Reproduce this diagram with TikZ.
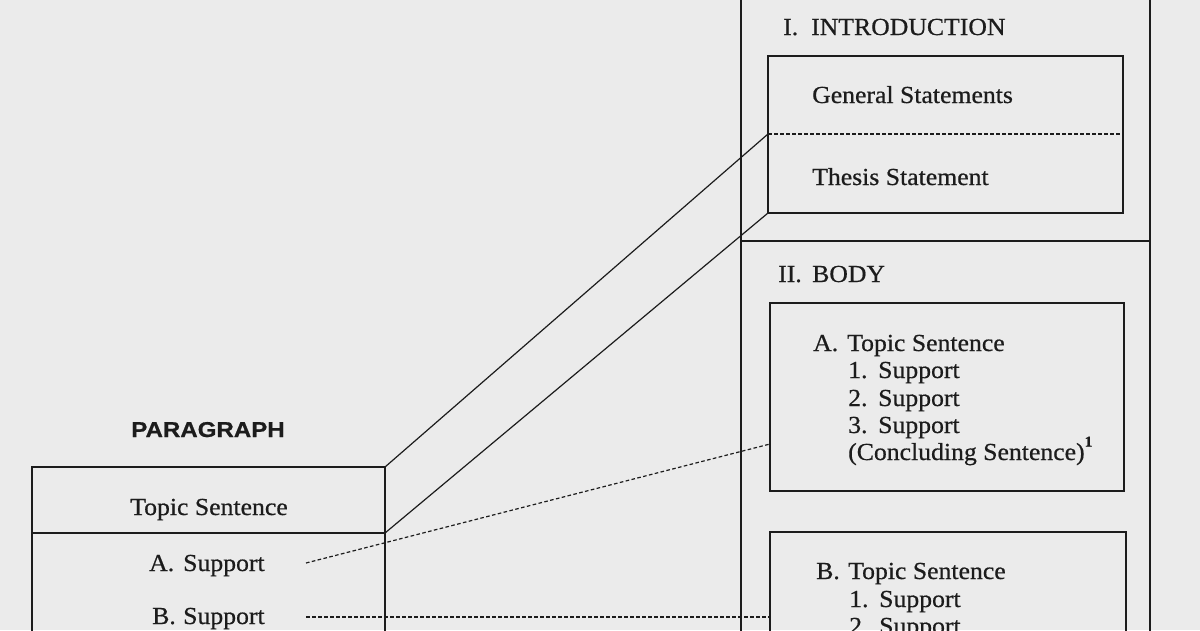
\documentclass[tikz,border=0pt]{standalone}
\usepackage{fontspec}
\setmainfont{Liberation Serif}[FakeStretch=1.05,FakeBold=0.6]
\newfontfamily\headfont{Liberation Sans}[FakeStretch=1.12,FakeBold=0.8]
\definecolor{bg}{RGB}{235,235,235}
\definecolor{ink}{RGB}{28,28,28}
\begin{document}
\begin{tikzpicture}[x=1pt,y=-1pt,
  txt/.style={font=\fontsize{24.5}{29}\selectfont, text=ink, inner sep=0pt, anchor=base west},
  ctxt/.style={txt, anchor=base},
  head/.style={font=\headfont\bfseries\fontsize{21.5}{25}\selectfont, text=ink, inner sep=0pt, anchor=base},
  area/.style={inner sep=0pt, outer sep=0pt, anchor=north west},
  frame/.style={draw=ink, line width=1.4pt},
  sline/.style={draw=ink, line width=1.2pt},
  dline/.style={draw=ink, line width=1.2pt, dash pattern=on 3.6pt off 2.4pt}]
\useasboundingbox (0,0) rectangle (1200,630);
\fill[bg] (0,0) rectangle (1200,630);
\clip (0,0) rectangle (1200,630);

% areas
\node[area, minimum width=409, minimum height=251] (introsec) at (741,-10) {};
\node[area, minimum width=409, minimum height=420] (bodysec) at (741,241) {};
\node[area, minimum width=355, minimum height=78] (gs) at (768,56) {};
\node[area, minimum width=355, minimum height=79] (th) at (768,134) {};
\node[area, minimum width=354, minimum height=188] (boxA) at (770,303) {};
\node[area, minimum width=356, minimum height=120] (boxB) at (770,532) {};
\node[area, minimum width=353, minimum height=66] (ts) at (32,467) {};
\node[area, minimum width=353, minimum height=110] (sp) at (32,533) {};

% frames
\draw[frame] (introsec.north west) rectangle (bodysec.south east);
\draw[frame] (bodysec.north west) -- (bodysec.north east);
\draw[frame] (gs.north west) rectangle (th.south east);
\draw[dline] (gs.south west) -- (gs.south east);
\draw[frame] (boxA.north west) rectangle (boxA.south east);
\draw[frame] (boxB.north west) rectangle (boxB.south east);
\draw[frame] (ts.north west) rectangle (sp.south east);
\draw[frame] (ts.south west) -- (ts.south east);

% right texts
\node[txt] (i1) at (783,35) {I.};
\node[txt] (i2) at (811,35) {INTRODUCTION};
\node[txt] (gst) at (812,103) {General Statements};
\node[txt] (tht) at (812,185) {Thesis Statement};
\node[txt] (b1) at (778,282) {II.};
\node[txt] (b2) at (812,282) {BODY};
\node[txt] (aA) at (813,351) {A.};
\node[txt] (aT) at (847,351) {Topic Sentence};
\node[txt] (a1n) at (848,378) {1.};
\node[txt] (a1s) at (878,378) {Support};
\node[txt] (a2n) at (848,406) {2.};
\node[txt] (a2s) at (878,406) {Support};
\node[txt] (a3n) at (848,433) {3.};
\node[txt] (a3s) at (878,433) {Support};
\node[txt] (acs) at (848,460) {(Concluding Sentence)\raisebox{0.55em}{\fontsize{15}{15}\selectfont\bfseries 1}};
\node[txt] (bB) at (816,579) {B.};
\node[txt] (bT) at (848,579) {Topic Sentence};
\node[txt] (b1n) at (849,607) {1.};
\node[txt] (b1s) at (879,607) {Support};
\node[txt] (b2n) at (849,634) {2.};
\node[txt] (b2s) at (879,634) {Support};

% left texts
\node[head] (par) at (208,437) {PARAGRAPH};
\node[ctxt] (tst) at (209,515) {Topic Sentence};
\node[txt] (lA) at (149,571) {A.};
\node[txt] (lAs) at (183,571) {Support};
\node[txt] (lB) at (152,624) {B.};
\node[txt] (lBs) at (183,624) {Support};

% connectors
\coordinate (aStart) at (306,563);
\coordinate (aIn) at (770,444);
\coordinate (bStart) at (306,617);
\coordinate (bIn) at (770,617);
\draw[sline] (ts.north east) -- (th.north west);
\draw[sline] (ts.south east) -- (th.south west);
\draw[dline] (aStart) -- (aIn);
\draw[dline] (bStart) -- (bIn);
\end{tikzpicture}
\end{document}
